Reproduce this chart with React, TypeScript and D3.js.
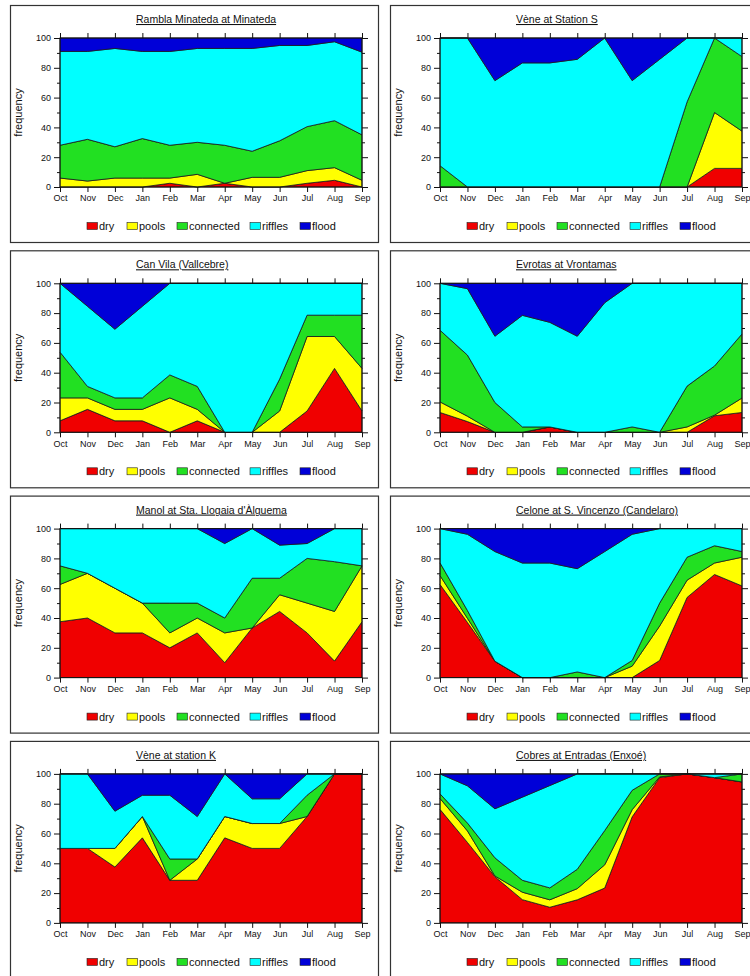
import { useEffect, useRef } from 'react';
import * as d3 from 'd3';

const months = ['Oct', 'Nov', 'Dec', 'Jan', 'Feb', 'Mar', 'Apr', 'May', 'Jun', 'Jul', 'Aug', 'Sep'];
const keys = ['dry', 'pools', 'connected', 'riffles', 'flood'];
const colors = ['#f00000', '#ffff00', '#22e022', '#00ffff', '#0000d8'];
const yTicks = [0, 20, 40, 60, 80, 100];

const titles = [
  'Rambla Minateda at Minateda',
  'Vène at Station S',
  'Can Vila (Vallcebre)',
  'Evrotas at Vrontamas',
  "Manol at Sta. Llogaia d'Àlguema",
  'Celone at S. Vincenzo (Candelaro)',
  'Vène at station K',
  'Cobres at Entradas (Enxoé)',
];

// rows: dry, pools, connected, riffles, flood (Oct..Sep)
const minateda = [
  [0, 0, 0, 0, 2.5, 0, 2.5, 0, 0, 2.5, 4.5, 0],
  [6, 4, 6, 6, 3.5, 8.5, 0, 6.5, 6.5, 8.5, 8.5, 4.5],
  [22, 28, 21, 26.5, 22, 21.5, 25.5, 17.5, 24.5, 29.5, 31.5, 30.5],
  [63, 59, 66, 58.5, 63, 63, 65, 69, 64, 54.5, 53, 55.5],
  [9, 9, 7, 9, 9, 7, 7, 7, 5, 5, 2.5, 9.5],
];
const veneS = [
  [0, 0, 0, 0, 0, 0, 0, 0, 0, 0, 12.5, 12.5],
  [0, 0, 0, 0, 0, 0, 0, 0, 0, 0, 37.5, 25],
  [14.3, 0, 0, 0, 0, 0, 0, 0, 0, 57.1, 50, 50],
  [85.7, 100, 71.4, 83.3, 83.3, 85.7, 100, 71.4, 85.7, 42.9, 0, 12.5],
  [0, 0, 28.6, 16.7, 16.7, 14.3, 0, 28.6, 14.3, 0, 0, 0],
];
const canVila = [
  [7.7, 15.4, 7.7, 7.7, 0, 7.7, 0, 0, 0, 14.3, 42.9, 14.3],
  [15.4, 7.7, 7.7, 7.7, 23.1, 7.7, 0, 0, 14.3, 50, 21.4, 28.6],
  [30.7, 7.7, 7.7, 7.7, 15.4, 15.4, 0, 0, 21.4, 14.3, 14.3, 35.7],
  [46.2, 53.8, 46.1, 61.5, 61.5, 69.2, 100, 100, 64.3, 21.4, 21.4, 21.4],
  [0, 15.4, 30.8, 15.4, 0, 0, 0, 0, 0, 0, 0, 0],
];
const evrotas = [
  [13.3, 7.2, 0, 0, 3.6, 0, 0, 0, 0, 0, 11.1, 13.3],
  [7.1, 3.6, 0, 0, 0, 0, 0, 0, 0, 3.6, 0.4, 9.7],
  [48.1, 41, 20, 3.6, 0, 0, 0, 3.6, 0, 27.4, 33, 43],
  [31.5, 44.6, 44.5, 74.9, 70.2, 64.5, 87, 96.4, 100, 69, 55.5, 34],
  [0, 3.6, 35.5, 21.5, 26.2, 35.5, 13, 0, 0, 0, 0, 0],
];
const manol = [
  [37.5, 40, 30, 30, 20, 30, 10, 33.3, 44.4, 30, 11.1, 37.5],
  [25, 30, 30, 20, 10, 10, 20, 0, 11.2, 20, 33.3, 37.5],
  [12.5, 0, 0, 0, 20, 10, 10, 33.4, 11.1, 30, 33.4, 0],
  [25, 30, 40, 50, 50, 50, 50, 33.3, 22.2, 10, 22.2, 25],
  [0, 0, 0, 0, 0, 0, 10, 0, 11.1, 10, 0, 0],
];
const celone = [
  [62.5, 37, 11, 0, 0, 0, 0, 0, 11.5, 53.8, 69.2, 61.5],
  [6, 2.8, 0, 0, 0, 0, 0, 7.7, 23.1, 11.6, 7.7, 19.3],
  [8.5, 5.2, 0, 0, 0, 3.8, 0, 3.8, 15.4, 15.4, 11.6, 3.8],
  [23, 51.2, 73.6, 76.9, 76.9, 69.3, 84.6, 84.7, 50, 19.2, 11.5, 15.4],
  [0, 3.8, 15.4, 23.1, 23.1, 26.9, 15.4, 3.8, 0, 0, 0, 0],
];
const veneK = [
  [50, 50, 37.5, 57.1, 28.6, 28.6, 57.1, 50, 50, 71.4, 100, 100],
  [0, 0, 12.5, 14.3, 0, 14.3, 14.3, 16.7, 16.7, 0, 0, 0],
  [0, 0, 0, 0, 14.3, 0, 0, 0, 0, 14.3, 0, 0],
  [50, 50, 25, 14.3, 42.8, 28.5, 28.6, 16.6, 16.6, 14.3, 0, 0],
  [0, 0, 25, 14.3, 14.3, 28.6, 0, 16.7, 16.7, 0, 0, 0],
];
const cobres = [
  [76.2, 54, 31, 15.6, 10.5, 15.5, 23.4, 71.2, 97.5, 100, 97.5, 94.6],
  [7.3, 7.7, 0.5, 5, 5, 7.5, 15.6, 4.8, 0.5, 0, 0, 0],
  [3.1, 5.3, 12.2, 8, 8, 13, 23, 13, 2, 0, 0, 5.4],
  [13.4, 25, 32.9, 55.8, 68.7, 64, 38, 11, 0, 0, 2.5, 0],
  [0, 8, 23.4, 15.6, 7.8, 0, 0, 0, 0, 0, 0, 0],
];

const sites = [minateda, veneS, canVila, evrotas, manol, celone, veneK, cobres];

const W = 750;
const H = 976;
const FONT = "'Liberation Sans', Arial, Helvetica, sans-serif";

export default function App() {
  const ref = useRef<SVGSVGElement>(null);

  useEffect(() => {
    const svg = d3.select(ref.current);
    svg.selectAll('*').remove();

    const cols = [
      { boxX: 10, plotX: 60, plotW: 302 },
      { boxX: 390, plotX: 440, plotW: 302 },
    ];
    const plotH = 149;

    sites.forEach((site, i) => {
      const col = cols[i % 2];
      const top = 38 + Math.floor(i / 2) * 245.3;
      const g = svg.append('g');

      g.append('rect')
        .attr('x', col.boxX + 0.5)
        .attr('y', top - 33 + 0.5)
        .attr('width', 368)
        .attr('height', 237)
        .attr('fill', 'white')
        .attr('stroke', '#333')
        .attr('stroke-width', 1.2);

      const x = d3.scalePoint().domain(months).range([col.plotX, col.plotX + col.plotW]);
      const y = d3.scaleLinear().domain([0, 100]).range([top + plotH, top]);

      const rows = months.map((m, j) => {
        const r: any = { month: m };
        keys.forEach((k, ki) => (r[k] = site[ki][j]));
        return r;
      });
      const series = d3.stack().keys(keys)(rows);
      const area = d3
        .area<any>()
        .x(d => x(d.data.month) as number)
        .y0(d => y(Math.min(100, d[0])))
        .y1(d => y(Math.min(100, d[1])));

      g.selectAll('path.layer')
        .data(series)
        .join('path')
        .attr('class', 'layer')
        .attr('d', area)
        .attr('fill', (_, ki) => colors[ki])
        .attr('stroke', '#1a1a1a')
        .attr('stroke-width', 0.8)
        .attr('stroke-linejoin', 'round');

      // frame
      g.append('rect')
        .attr('x', col.plotX)
        .attr('y', top)
        .attr('width', col.plotW)
        .attr('height', plotH)
        .attr('fill', 'none')
        .attr('stroke', '#111')
        .attr('stroke-width', 1);

      const minor = d3.range(10, 100, 20);
      const axes = [
        { ax: d3.axisLeft(y).tickValues(yTicks).tickSize(6), tx: col.plotX, ty: 0, labels: true },
        { ax: d3.axisLeft(y).tickValues(minor).tickSize(3), tx: col.plotX, ty: 0, labels: false },
        { ax: d3.axisRight(y).tickValues(yTicks).tickSize(6), tx: col.plotX + col.plotW, ty: 0, labels: false },
        { ax: d3.axisRight(y).tickValues(minor).tickSize(3), tx: col.plotX + col.plotW, ty: 0, labels: false },
        { ax: d3.axisTop(x).tickSize(5), tx: 0, ty: top, labels: false },
        { ax: d3.axisBottom(x).tickSize(5), tx: 0, ty: top + plotH, labels: true },
      ];
      axes.forEach(a => {
        const ag = g
          .append('g')
          .attr('transform', `translate(${a.tx},${a.ty})`)
          .call(a.ax as any);
        ag.select('.domain').remove();
        ag.selectAll('line').attr('stroke', '#111').attr('stroke-width', 1);
        if (!a.labels) ag.selectAll('text').remove();
        ag.selectAll('text').attr('font-family', FONT).attr('font-size', 9).attr('fill', '#111');
      });

      g.append('text')
        .attr('transform', `translate(${col.plotX - 38},${top + plotH / 2}) rotate(-90)`)
        .attr('text-anchor', 'middle')
        .attr('font-family', FONT)
        .attr('font-size', 11)
        .attr('fill', '#111')
        .text('frequency');

      g.append('text')
        .attr('x', col.plotX + 76)
        .attr('y', top - 15)
        .attr('font-family', FONT)
        .attr('font-size', 10.5)
        .attr('fill', '#111')
        .attr('text-decoration', 'underline')
        .text(titles[i]);

      const legX = [27, 67, 117, 190, 240];
      const ly = top + plotH + 39;
      keys.forEach((k, ki) => {
        const lx = col.plotX + legX[ki];
        g.append('rect')
          .attr('x', lx)
          .attr('y', ly - 3.5)
          .attr('width', 10.5)
          .attr('height', 7)
          .attr('fill', colors[ki])
          .attr('stroke', '#222')
          .attr('stroke-width', 0.6);
        g.append('text')
          .attr('x', lx + 12)
          .attr('y', ly + 4)
          .attr('font-family', FONT)
          .attr('font-size', 11)
          .attr('fill', '#111')
          .text(k);
      });
    });

    return () => {
      svg.selectAll('*').remove();
    };
  }, []);

  return (
    <svg
      ref={ref}
      width={W}
      height={H}
      style={{ position: 'absolute', left: 0, top: 0, background: 'white' }}
    />
  );
}
